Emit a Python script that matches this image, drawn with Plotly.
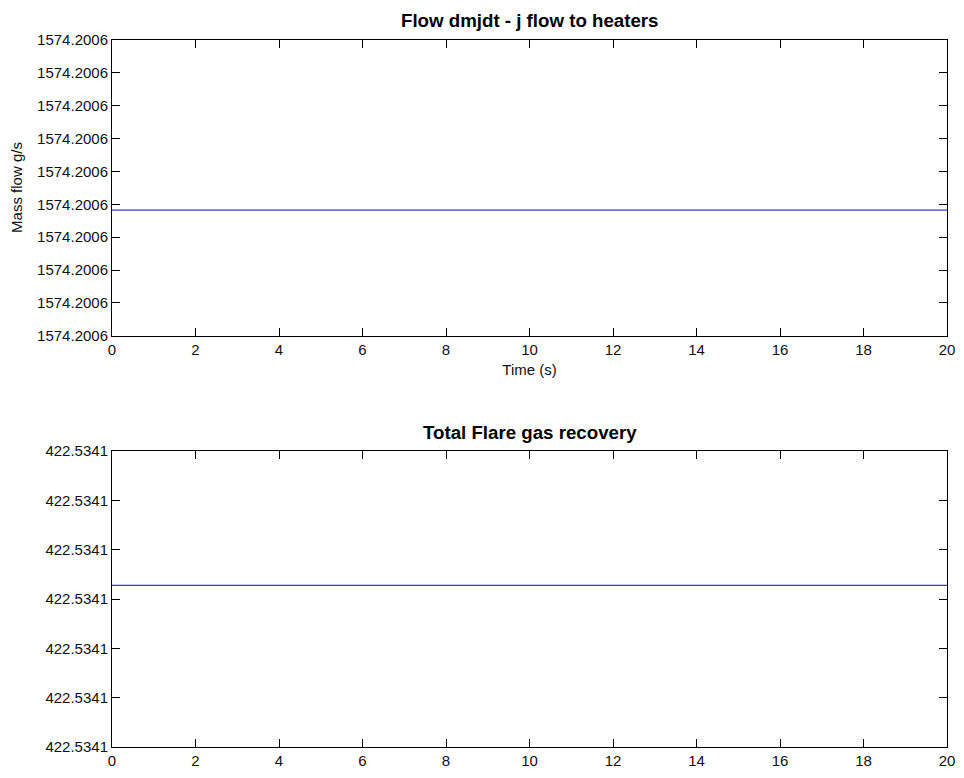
import plotly.graph_objects as go
from plotly.subplots import make_subplots

# ---- data ----
time_s = [0, 20]
# top panel: flow to heaters (constant). Offsets in units of the tiny tick step
top_tick_offsets = [0, 1, 2, 3, 4, 5, 6, 7, 8, 9]
top_tick_labels = ["1574.2006"] * 10
top_flow_offset = [3.825, 3.825]

# bottom panel: total flare gas recovery (constant)
bot_tick_offsets = [0, 1, 2, 3, 4, 5, 6]
bot_tick_labels = ["422.5341"] * 7
bot_flow_offset = [3.28, 3.28]

x_ticks = [0, 2, 4, 6, 8, 10, 12, 14, 16, 18, 20]

top_title = "Flow dmjdt - j flow to heaters"
bot_title = "Total Flare gas recovery"
x_label = "Time (s)"
y_label = "Mass flow g/s"

FONT = "Liberation Sans, Arial, Helvetica, sans-serif"
LINE_COLOR = "#0000c8"

fig = make_subplots(rows=2, cols=1)
fig.add_trace(go.Scatter(x=time_s, y=top_flow_offset, mode="lines",
                         line=dict(color=LINE_COLOR, width=1), showlegend=False), row=1, col=1)
fig.add_trace(go.Scatter(x=time_s, y=bot_flow_offset, mode="lines",
                         line=dict(color=LINE_COLOR, width=1), showlegend=False), row=2, col=1)

axis_common = dict(showline=True, linecolor="black", linewidth=1, mirror="ticks",
                   ticks="inside", ticklen=8, tickcolor="black", showgrid=False,
                   zeroline=False, tickfont=dict(family=FONT, size=15, color="#111111"))

H = 778
t, b = 40, 21
ph = H - t - b
top_dom = [(ph - 300) / ph, 1]
bot_dom = [0, 300 / ph]
fig.update_layout(
    width=964, height=778,
    margin=dict(l=112, r=9, t=t, b=b),
    paper_bgcolor="white", plot_bgcolor="white",
    font=dict(family=FONT, color="black"),
    xaxis=dict(range=[0, 20], tickvals=x_ticks, domain=[0, 1], anchor="y",
               title=dict(text=x_label, font=dict(family=FONT, size=15, color="#111111"), standoff=7),
               **axis_common),
    yaxis=dict(range=[0, 9], tickvals=top_tick_offsets, ticktext=top_tick_labels,
               domain=top_dom, anchor="x", **axis_common),
    xaxis2=dict(range=[0, 20], tickvals=x_ticks, domain=[0, 1], anchor="y2", **axis_common),
    yaxis2=dict(range=[0, 6], tickvals=bot_tick_offsets, ticktext=bot_tick_labels,
                domain=bot_dom, anchor="x2", **axis_common),
)

fig.add_annotation(text=y_label, xref="paper", yref="paper", textangle=-90,
                   x=0, xanchor="center", xshift=-95,
                   y=(top_dom[0] + top_dom[1]) / 2, yanchor="middle", showarrow=False,
                   font=dict(family=FONT, size=15, color="#111111"))
fig.add_annotation(text="<b>" + top_title + "</b>", xref="paper", yref="paper",
                   x=0.5, y=top_dom[1], yanchor="middle", yshift=20, showarrow=False,
                   font=dict(family=FONT, size=18.7, color="black"))
fig.add_annotation(text="<b>" + bot_title + "</b>", xref="paper", yref="paper",
                   x=0.5, y=bot_dom[1], yanchor="middle", yshift=19, showarrow=False,
                   font=dict(family=FONT, size=18.7, color="black"))

fig.write_html("out.html", config={"displayModeBar": False},
               post_script="document.body.style.margin='0';document.body.style.overflow='hidden';")
